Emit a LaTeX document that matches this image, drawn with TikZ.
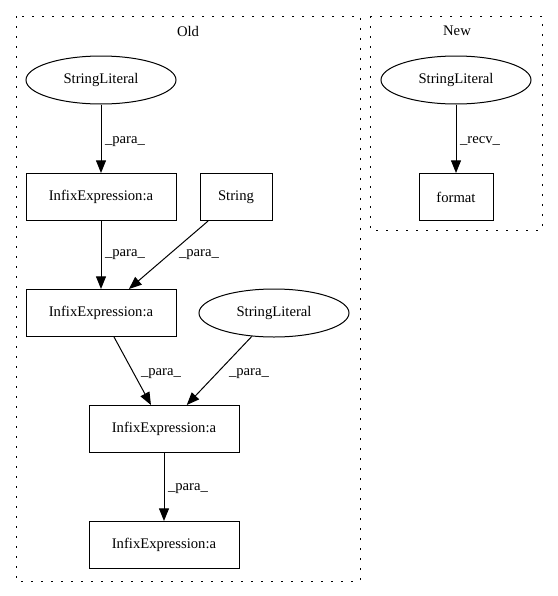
\documentclass[tikz,border=0pt]{standalone}
\usepackage{fontspec}
\setmainfont{Liberation Serif}
\usetikzlibrary{shapes.geometric,arrows.meta}
\begin{document}
\begin{tikzpicture}[x=0.75pt,y=-0.75pt,
  every node/.style={font=\fontsize{11pt}{13pt}\selectfont},
  boxnode/.style={draw,line width=0.75pt,rectangle,minimum width=112.5pt,minimum height=35.25pt,inner sep=0pt},
  ellnode/.style={draw,line width=0.75pt,ellipse,minimum width=112.5pt,minimum height=36pt,inner sep=0pt},
  cluster/.style={draw,line width=0.75pt,dash pattern=on 1.5pt off 6pt},
  edge/.style={draw,line width=0.75pt,-{Triangle[length=9.5pt,width=7.5pt]}},
  lab/.style={inner sep=0pt}]
\useasboundingbox (0,0) rectangle (557,596);
% clusters
\draw[cluster] (16,16) rectangle (360,581);
\draw[cluster] (370,16) rectangle (542,230);
\node (oldlab) at (188,31) {Old};
\node (newlab) at (457,31) {New};
% Old nodes
\node[ellnode] (sl1) at (101,80) {StringLiteral};
\node[boxnode] (ie1) at (101,197) {InfixExpression:a};
\node[boxnode,minimum width=54pt] (str) at (236,197) {String};
\node[boxnode] (ie2) at (101,313) {InfixExpression:a};
\node[ellnode] (sl2) at (274,313) {StringLiteral};
\node[boxnode] (ie3) at (164,429) {InfixExpression:a};
\node[boxnode] (ie4) at (164,545) {InfixExpression:a};
% New nodes
\node[ellnode] (sl3) at (456,80) {StringLiteral};
\node[boxnode,minimum width=55.5pt] (fmt) at (456,197) {format};
% edges
\draw[edge] (sl1) -- (ie1);
\draw[edge] (ie1) -- (ie2);
\draw[edge] (str) -- (ie2);
\draw[edge] (ie2) -- (ie3);
\draw[edge] (sl2) -- (ie3);
\draw[edge] (ie3) -- (ie4);
\draw[edge] (sl3) -- (fmt);
% edge labels
\node[lab] (l1) at (125,142) {\_para\_};
\node[lab] (l2) at (125,255) {\_para\_};
\node[lab] (l3) at (199,255) {\_para\_};
\node[lab] (l4) at (161,374) {\_para\_};
\node[lab] (l5) at (249,374) {\_para\_};
\node[lab] (l6) at (188,489) {\_para\_};
\node[lab] (l7) at (480,141) {\_recv\_};
\end{tikzpicture}
\end{document}
